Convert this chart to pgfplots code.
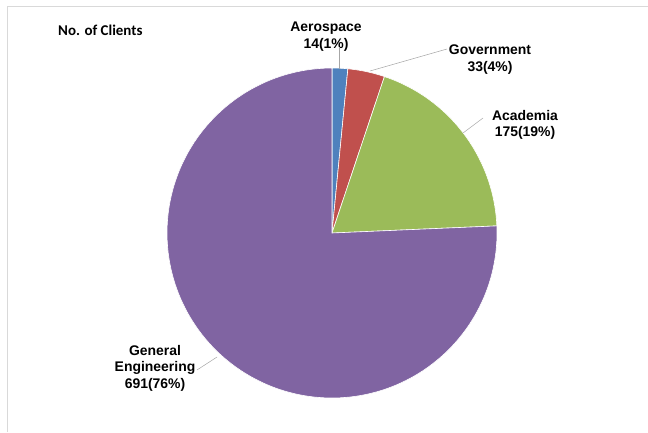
\documentclass[border=0pt]{standalone}
\usepackage{fontspec}
\setmainfont{Liberation Sans}
\newfontfamily\calib{Carlito}
\usepackage{pgfplots}
\usepgfplotslibrary{polar}
\pgfplotsset{compat=1.18}
\definecolor{cBlue}{HTML}{4F81BD}
\definecolor{cRed}{HTML}{C0504D}
\definecolor{cGreen}{HTML}{9BBB59}
\definecolor{cPurple}{HTML}{8064A2}
\definecolor{cBorder}{HTML}{D9D9D9}
\definecolor{cLead}{HTML}{A6A6A6}
% data: number of clients
\def\vAero{14}
\def\vGov{33}
\def\vAcad{175}
\def\vGen{691}
\begin{document}
\begin{tikzpicture}[x=1bp,y=1bp]
\pgfmathsetmacro\tot{\vAero+\vGov+\vAcad+\vGen}
\pgfmathsetmacro\aA{90}
\pgfmathsetmacro\aB{\aA-\vAero/\tot*360}
\pgfmathsetmacro\aC{\aB-\vGov/\tot*360}
\pgfmathsetmacro\aD{\aC-\vAcad/\tot*360}
\pgfmathsetmacro\aE{\aD-\vGen/\tot*360}
\path[use as bounding box] (0,0) rectangle (648,432);
\draw[cBorder, line width=0.8pt] (7,0) -- (7,426) -- (648,426);
\begin{polaraxis}[at={(332bp,199bp)}, anchor=origin, scale only axis,
  width=330bp, height=330bp, ymin=0, ymax=1, hide axis, clip=false]
\addplot[fill=cBlue, draw=white, line width=0.6pt, domain=\aB:\aA, samples=10] {1} -- (axis cs:0,0) -- cycle;
\addplot[fill=cRed, draw=white, line width=0.6pt, domain=\aC:\aB, samples=15] {1} -- (axis cs:0,0) -- cycle;
\addplot[fill=cGreen, draw=white, line width=0.6pt, domain=\aD:\aC, samples=40] {1} -- (axis cs:0,0) -- cycle;
\addplot[fill=cPurple, draw=white, line width=0.6pt, domain=\aE:\aD, samples=150] {1} -- (axis cs:0,0) -- cycle;
\end{polaraxis}
\begin{scope}[every node/.style={inner sep=0pt, align=center, font=\fontsize{14}{16.5}\selectfont\bfseries}]
\node[anchor=north west, font=\calib\fontsize{15}{17}\selectfont\bfseries] at (58,407) {No. of Clients};
\node[anchor=north] at (326,410) {Aerospace\\14(1\%)};
\node[anchor=north] at (490,387) {Government\\33(4\%)};
\node[anchor=north] at (525,322) {Academia\\175(19\%)};
\node[anchor=north] at (155,87) {General\\Engineering\\691(76\%)};
\end{scope}
\draw[cLead, line width=0.5pt] (339,385) -- (339,363);
\draw[cLead, line width=0.5pt] (370,361) -- (447,383);
\draw[cLead, line width=0.5pt] (463,299) -- (483,314);
\draw[cLead, line width=0.5pt] (197,62) -- (217,75);
\end{tikzpicture}
\end{document}
